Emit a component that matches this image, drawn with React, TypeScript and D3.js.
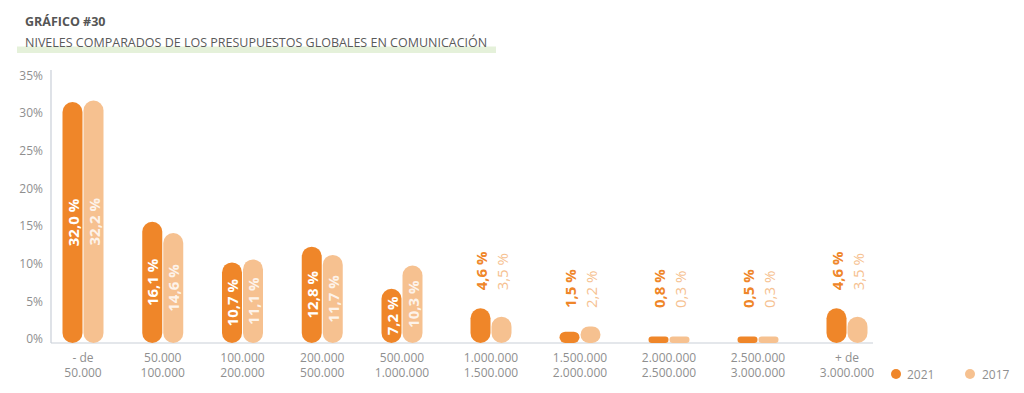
import React from "react";
import * as d3 from "d3";

const categories = [
  "- de|50.000",
  "50.000|100.000",
  "100.000|200.000",
  "200.000|500.000",
  "500.000|1.000.000",
  "1.000.000|1.500.000",
  "1.500.000|2.000.000",
  "2.000.000|2.500.000",
  "2.500.000|3.000.000",
  "+ de|3.000.000",
];
const values2021 = [32.0, 16.1, 10.7, 12.8, 7.2, 4.6, 1.5, 0.8, 0.5, 4.6];
const values2017 = [32.2, 14.6, 11.1, 11.7, 10.3, 3.5, 2.2, 0.3, 0.3, 3.5];
const yTicks = [0, 5, 10, 15, 20, 25, 30, 35];
const seriesNames = ["2021", "2017"];

const C2021 = "#ef8629";
const C2017 = "#f6c190";
const FONT = "'Open Sans', sans-serif";

const fmt = (v: number) => v.toFixed(1).replace(".", ",") + " %";

export default function App() {
  const W = 1024;
  const H = 393;
  const y = d3.scaleLinear().domain([0, 35]).range([343, 79.5]);
  const x = d3.scaleLinear().domain([0, 4, 9]).range([83, 402, 847]);
  const barW = 20;

  const bar = (v: number, cx: number, color: string, key: string) => {
    const h = Math.max(y(0) - y(v), 6.5);
    const top = y(0) - h;
    const rx = Math.min(10, h / 2);
    return <rect key={key} x={cx} y={top} width={barW} height={h} rx={rx} ry={rx} fill={color} />;
  };

  return (
    <svg width={W} height={H} style={{ position: "absolute", left: 0, top: 0 }} fontFamily={FONT}>
      <rect x={0} y={0} width={W} height={H} fill="#ffffff" />
      {/* Title */}
      <text x={25} y={26} fontSize={12.5} fontWeight={700} fill="#555555">GRÁFICO #30</text>
      <rect x={17} y={46.5} width={479} height={6.5} fill="#e5f1da" />
      <text x={25} y={47} fontSize={12.5} fill="#5a5a5a">NIVELES COMPARADOS DE LOS PRESUPUESTOS GLOBALES EN COMUNICACIÓN</text>

      {/* Axes */}
      <line x1={51} x2={51} y1={70} y2={343} stroke="#c9cfd8" strokeWidth={1.2} />
      <line x1={51} x2={873} y1={343} y2={343} stroke="#c9cfd8" strokeWidth={1.2} />
      {yTicks.map((t) => (
        <text key={t} x={43} y={y(t) - 3} fontSize={12} fill="#8f8f8f" textAnchor="end" dominantBaseline="middle">
          {t}%
        </text>
      ))}

      {/* Bars */}
      {categories.map((c, i) => {
        const cx = x(i);
        const v1 = values2021[i];
        const v2 = values2017[i];
        const inside = Math.max(v1, v2) >= 5;
        const lines = c.split("|");
        const out: any[] = [];
        out.push(bar(v1, cx - barW - 0.5, C2021, "a" + i));
        out.push(bar(v2, cx + 0.5, C2017, "b" + i));
        if (inside) {
          [v1, v2].forEach((v, k) => {
            const bx = k === 0 ? cx - barW / 2 - 0.5 : cx + barW / 2 + 0.5;
            const cy = (y(v) + y(0)) / 2;
            out.push(
              <text
                key={"l" + k + i}
                transform={`translate(${bx},${cy}) rotate(-90)`}
                textAnchor="middle"
                dominantBaseline="central"
                fontSize={15}
                fontWeight={700}
                fill={k === 0 ? "#ffffff" : "#fdf3ea"}
              >
                {fmt(v)}
              </text>
            );
          });
        } else {
          const anchorY = Math.min(y(Math.max(v1, v2)) - 18, 308);
          [v1, v2].forEach((v, k) => {
            const bx = k === 0 ? cx - barW / 2 - 0.5 : cx + barW / 2 + 0.5;
            out.push(
              <text
                key={"o" + k + i}
                transform={`translate(${bx},${anchorY}) rotate(-90)`}
                textAnchor="start"
                dominantBaseline="central"
                fontSize={15}
                fontWeight={k === 0 ? 700 : 400}
                fill={k === 0 ? C2021 : C2017}
              >
                {fmt(v)}
              </text>
            );
          });
        }
        out.push(
          <text key={"c" + i} x={cx} y={362} fontSize={12} fill="#8f8f8f" textAnchor="middle">
            <tspan x={cx} dy={0}>{lines[0]}</tspan>
            <tspan x={cx} dy={15}>{lines[1]}</tspan>
          </text>
        );
        return <g key={"g" + i}>{out}</g>;
      })}

      {/* Legend */}
      {seriesNames.map((s, k) => (
        <g key={s}>
          <circle cx={k === 0 ? 896 : 970} cy={374} r={5} fill={k === 0 ? C2021 : C2017} />
          <text x={k === 0 ? 907 : 982} y={378.5} fontSize={12} fill="#8f8f8f">{s}</text>
        </g>
      ))}
    </svg>
  );
}
